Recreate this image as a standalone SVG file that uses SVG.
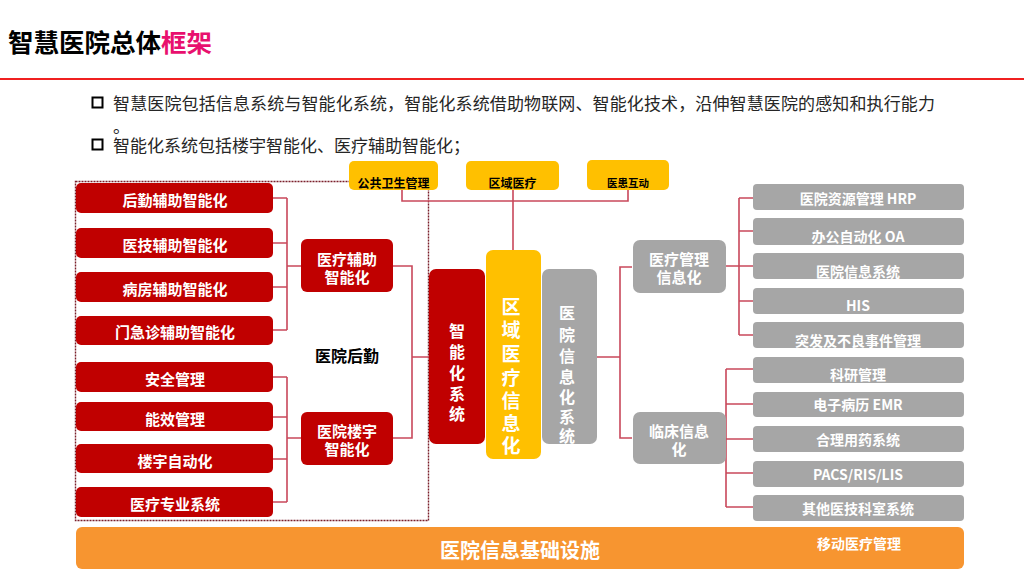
<svg xmlns="http://www.w3.org/2000/svg" width="1024" height="576" viewBox="0 0 1024 576">
<style>
text{font-family:"Noto Sans CJK SC","Noto Sans",sans-serif;font-weight:bold;dominant-baseline:central;text-anchor:middle}
.red{fill:#C00000}
.gray{fill:#A6A6A6}
.yel{fill:#FFC000}
.w{fill:#FFFFFF}
.k{fill:#000000}
.ln{fill:none;stroke:#C9485B;stroke-width:1.6}
.l15{font-size:15px}
.l14{font-size:14px}
.v16{font-size:16px;fill:#FFFFFF}
.v19{font-size:19px;fill:#FFFFFF}
</style>
<rect width="1024" height="576" fill="#FFFFFF"/>
<g id="title">
<text x="8" y="40" style="text-anchor:start;font-size:25.5px" class="k">智慧医院总体<tspan fill="#E8106E">框架</tspan></text>
<rect x="0" y="78" width="1024" height="2" fill="#F02020"/>
</g>
<g id="bullets">
<rect x="92.5" y="97.5" width="10" height="10" fill="none" stroke="#000" stroke-width="2"/>
<text x="113" y="102" style="text-anchor:start;font-size:17px;font-weight:normal;fill:#262626" textLength="822" lengthAdjust="spacing">智慧医院包括信息系统与智能化系统，智能化系统借助物联网、智能化技术，沿伸智慧医院的感知和执行能力</text>
<text x="113" y="125" style="text-anchor:start;font-size:17px;font-weight:normal;fill:#262626">。</text>
<rect x="92.5" y="139.5" width="10" height="10" fill="none" stroke="#000" stroke-width="2"/>
<text x="113" y="144" style="text-anchor:start;font-size:17px;font-weight:normal;fill:#262626">智能化系统包括楼宇智能化、医疗辅助智能化；</text>
</g>
<rect id="houqin-frame" x="75.5" y="181.5" width="353" height="339" fill="none" stroke="#7A1F2A" stroke-width="1.4" stroke-dasharray="2 1"/>
<g id="connectors">
<path class="ln" d="M402 190V201H628V190M513 190V251"/>
<path class="ln" d="M273 198H287M273 243H287M273 287H287M273 330H287M287 198V330M287 266H301"/>
<path class="ln" d="M273 377H287M273 417H287M273 459H287M273 502H287M287 377V502M287 438H301"/>
<path class="ln" d="M393 266H412V438H393M412 357H430"/>
<path class="ln" d="M597 357H620M632 267H620V438H632"/>
<path class="ln" d="M726 266H739M739 198V335M739 198H753M739 231H753M739 266H753M739 301H753M739 335H753"/>
<path class="ln" d="M726 369V507M726 369H753M726 404H753M726 439H753M726 473H753M726 507H753"/>
</g>
<g id="n-ggws"><rect x="349" y="161" width="89" height="29" rx="5" class="yel"/><text x="393.5" y="182" class="k" font-size="12">公共卫生管理</text></g>
<g id="n-qyyl"><rect x="466" y="161" width="93" height="29" rx="5" class="yel"/><text x="512.5" y="182" class="k" font-size="12">区域医疗</text></g>
<g id="n-yhhd"><rect x="587" y="160" width="82" height="30" rx="5" class="yel"/><text x="628" y="182" class="k" font-size="10.5">医患互动</text></g>
<g id="n-hq1"><rect x="76" y="183" width="197" height="30" rx="5" class="red"/><text x="175" y="199" class="w l15">后勤辅助智能化</text></g>
<g id="n-hq2"><rect x="76" y="228" width="197" height="30" rx="5" class="red"/><text x="175" y="244" class="w l15">医技辅助智能化</text></g>
<g id="n-hq3"><rect x="76" y="272" width="197" height="30" rx="5" class="red"/><text x="175" y="288" class="w l15">病房辅助智能化</text></g>
<g id="n-hq4"><rect x="76" y="316" width="197" height="29" rx="5" class="red"/><text x="175" y="331" class="w l15">门急诊辅助智能化</text></g>
<g id="n-ly1"><rect x="76" y="362" width="197" height="30" rx="5" class="red"/><text x="175" y="378" class="w l15">安全管理</text></g>
<g id="n-ly2"><rect x="76" y="402" width="197" height="29" rx="5" class="red"/><text x="175" y="418" class="w l15">能效管理</text></g>
<g id="n-ly3"><rect x="76" y="444" width="197" height="29" rx="5" class="red"/><text x="175" y="460" class="w l15">楼宇自动化</text></g>
<g id="n-ly4"><rect x="76" y="487" width="197" height="30" rx="5" class="red"/><text x="175" y="503" class="w l15">医疗专业系统</text></g>
<g id="n-ylfz"><rect x="301" y="239" width="92" height="53" rx="6" class="red"/><text x="347" y="258" class="w l15">医疗辅助</text><text x="347" y="276" class="w l15">智能化</text></g>
<g id="n-yyly"><rect x="301" y="412" width="92" height="53" rx="6" class="red"/><text x="347" y="430" class="w l15">医院楼宇</text><text x="347" y="448" class="w l15">智能化</text></g>
<g id="n-yyhq"><text x="347" y="355" class="k" font-size="16">医院后勤</text></g>
<g id="n-znh"><rect x="429" y="269" width="56" height="175" rx="7" class="red"/>
<text x="457" y="330" class="v16">智</text><text x="457" y="351" class="v16">能</text><text x="457" y="372" class="v16">化</text><text x="457" y="393" class="v16">系</text><text x="457" y="413" class="v16">统</text></g>
<g id="n-qyxx"><rect x="486" y="250" width="55" height="209" rx="7" class="yel"/>
<text x="511" y="305" class="v19">区</text><text x="511" y="328" class="v19">域</text><text x="511" y="352" class="v19">医</text><text x="511" y="376" class="v19">疗</text><text x="511" y="399" class="v19">信</text><text x="511" y="422" class="v19">息</text><text x="511" y="444" class="v19">化</text></g>
<g id="n-yyxx"><rect x="542" y="269" width="55" height="175" rx="7" class="gray"/>
<text x="567" y="312" class="v16">医</text><text x="567" y="334" class="v16">院</text><text x="567" y="355" class="v16">信</text><text x="567" y="376" class="v16">息</text><text x="567" y="396" class="v16">化</text><text x="567" y="416" class="v16">系</text><text x="567" y="435" class="v16">统</text></g>
<g id="n-ylgl"><rect x="633" y="240" width="93" height="53" rx="7" class="gray"/><text x="679" y="258" class="w l15">医疗管理</text><text x="679" y="276" class="w l15">信息化</text></g>
<g id="n-lcxx"><rect x="633" y="412" width="93" height="52" rx="7" class="gray"/><text x="679" y="430" class="w l15">临床信息</text><text x="679" y="448" class="w l15">化</text></g>
<g id="n-r1"><rect x="753" y="184" width="211" height="26" rx="4" class="gray"/><text x="858" y="198" class="w l14">医院资源管理 HRP</text></g>
<g id="n-r2"><rect x="753" y="218" width="211" height="27" rx="4" class="gray"/><text x="858" y="236" class="w l14">办公自动化 OA</text></g>
<g id="n-r3"><rect x="753" y="253" width="211" height="26" rx="4" class="gray"/><text x="858" y="271" class="w l14">医院信息系统</text></g>
<g id="n-r4"><rect x="753" y="288" width="211" height="26" rx="4" class="gray"/><text x="858" y="305" class="w l14">HIS</text></g>
<g id="n-r5"><rect x="753" y="322" width="211" height="26" rx="4" class="gray"/><text x="858" y="340" class="w l14">突发及不良事件管理</text></g>
<g id="n-r6"><rect x="753" y="357" width="211" height="26" rx="4" class="gray"/><text x="858" y="374" class="w l14">科研管理</text></g>
<g id="n-r7"><rect x="753" y="392" width="211" height="25" rx="4" class="gray"/><text x="858" y="404" class="w l14">电子病历 EMR</text></g>
<g id="n-r8"><rect x="753" y="426" width="211" height="26" rx="4" class="gray"/><text x="858" y="439" class="w l14">合理用药系统</text></g>
<g id="n-r9"><rect x="753" y="461" width="211" height="26" rx="4" class="gray"/><text x="858" y="474" class="w l14">PACS/RIS/LIS</text></g>
<g id="n-r10"><rect x="753" y="495" width="211" height="26" rx="4" class="gray"/><text x="858" y="508" class="w l14">其他医技科室系统</text></g>
<g id="n-jcss"><rect x="76" y="527" width="888" height="42" rx="6" fill="#F79530"/><text x="520" y="549" class="w" font-size="20">医院信息基础设施</text><text x="859" y="543" class="w l14">移动医疗管理</text></g>
</svg>
